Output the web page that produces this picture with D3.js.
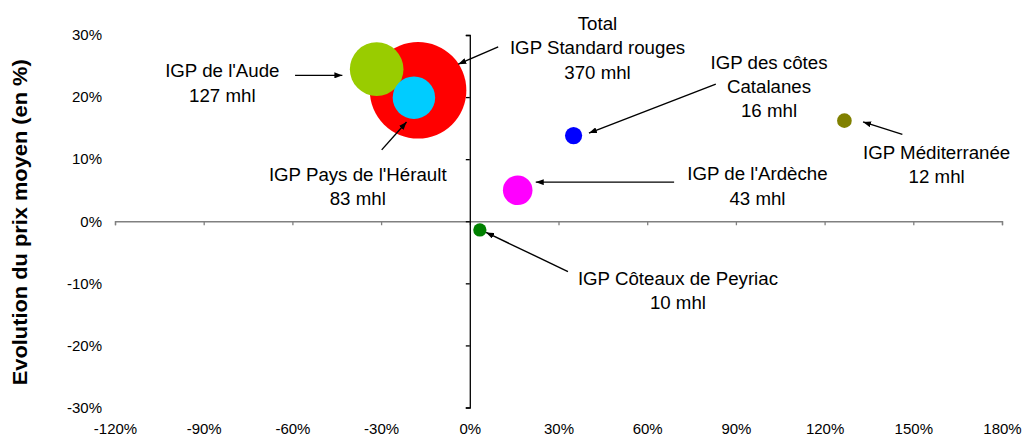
<!DOCTYPE html>
<html>
<head>
<meta charset="utf-8">
<script src="https://cdn.jsdelivr.net/npm/d3@7"></script>
<style>
  body { margin: 0; background: #fff; }
  svg { display: block; font-family: "Liberation Sans", Arial, sans-serif; }
</style>
</head>
<body>
<svg id="chart" width="1024" height="437"></svg>
<script>
// series
const names = ['Total IGP Standard rouges', "IGP de l'Aude", "IGP Pays de l'Hérault",
  'IGP des côtes Catalanes', 'IGP Méditerranée', "IGP de l'Ardèche", 'IGP Côteaux de Peyriac'];
const volumeEvol = [-17.5, -31.5, -18.9, 35.1, 126.7, 16.2, 3.4];   // x, %
const priceEvol = [21.1, 24.5, 19.9, 13.8, 16.2, 5.0, -1.4];        // y, %
const volumes = [370, 127, 83, 16, 12, 43, 10];                       // mhl, bubble size
const colors = ['#ff0000', '#99cc00', '#00ccff', '#0000ff', '#808000', '#ff00ff', '#008000'];

const xTicks = [-120, -90, -60, -30, 0, 30, 60, 90, 120, 150, 180];
const yTicks = [-30, -20, -10, 0, 10, 20, 30];

// annotation text lines, in series order
const labelLines = [
  ['Total', 'IGP Standard rouges', '370 mhl'],
  ["IGP de l'Aude", '127 mhl'],
  ["IGP Pays de l'Hérault", '83 mhl'],
  ['IGP des côtes', 'Catalanes', '16 mhl'],
  ['IGP Méditerranée', '12 mhl'],
  ["IGP de l'Ardèche", '43 mhl'],
  ['IGP Côteaux de Peyriac', '10 mhl'],
];

const svg = d3.select('#chart');
const cs = {
  x: { range: [115, 1002] },
  y: { range: [407.5, 35] },
  font: { tick: 15, label: 18.7, title: 20 },
  lineGap: 24.3,
};

const x = d3.scaleLinear().domain([-120, 180]).range(cs.x.range);
const y = d3.scaleLinear().domain([-30, 30]).range(cs.y.range);
const r = d3.scalePow().exponent(0.55).domain([0, 370]).range([0, 48.3]);

// annotation placement in data units: text anchor (centre, first baseline), arrow tail, arrow head
const notes = [
  { tx: 43.2, ty: 30.8, from: [9.6, 28.1], to: [-3.9, 25.3] },
  { tx: -83.7, ty: 23.2, from: [-59.1, 23.5], to: [-43.1, 23.5] },
  { tx: -37.9, ty: 6.5, from: [-29.8, 11.5], to: [-21.4, 16.0] },
  { tx: 101.2, ty: 24.6, from: [83.2, 22.1], to: [40.3, 14.2] },
  { tx: 157.9, ty: 10.1, from: [146.3, 14.0], to: [133.0, 16.0] },
  { tx: 97.3, ty: 6.6, from: [69.1, 6.3], to: [22.3, 6.3] },
  { tx: 70.4, ty: -10.3, from: [33.2, -8.1], to: [5.5, -1.8] },
];

svg.append('defs').append('marker')
  .attr('id', 'arrow')
  .attr('markerUnits', 'userSpaceOnUse')
  .attr('markerWidth', 8)
  .attr('markerHeight', 6)
  .attr('refX', 8)
  .attr('refY', 3)
  .attr('orient', 'auto')
  .append('path')
  .attr('d', 'M0,0 L8,3 L0,6 Z')
  .attr('fill', '#000');

// axis lines crossing at 0
const xAxisLine = svg.append('g')
  .attr('transform', `translate(0,${y(0)})`)
  .call(d3.axisBottom(x).tickValues(xTicks).tickFormat('').tickSize(4).tickSizeOuter(4));
xAxisLine.selectAll('path, line').attr('stroke', '#808080').attr('stroke-width', 1.3);

const yAxisLine = svg.append('g')
  .attr('transform', `translate(${x(0)},0)`)
  .call(d3.axisLeft(y).tickValues(yTicks).tickFormat('').tickSize(4).tickSizeOuter(4));
yAxisLine.selectAll('path, line').attr('stroke', '#000').attr('stroke-width', 1.3);

// tick labels sit at the low end of each axis
const xLabels = svg.append('g')
  .attr('transform', 'translate(0,423)')
  .call(d3.axisBottom(x).tickValues(xTicks).tickFormat(d => `${d}%`).tickSize(0).tickPadding(0));
xLabels.select('.domain').remove();
xLabels.selectAll('text')
  .attr('font-size', cs.font.tick)
  .attr('font-family', '"Liberation Sans", Arial, sans-serif')
  .attr('fill', '#000');

const yLabels = svg.append('g')
  .attr('transform', 'translate(102,0)')
  .call(d3.axisLeft(y).tickValues(yTicks).tickFormat(d => `${d}%`).tickSize(0).tickPadding(0));
yLabels.select('.domain').remove();
yLabels.selectAll('text')
  .attr('font-size', cs.font.tick)
  .attr('font-family', '"Liberation Sans", Arial, sans-serif')
  .attr('fill', '#000');

svg.append('text')
  .attr('transform', `translate(27,${(cs.y.range[0] + cs.y.range[1]) / 2 + 1}) rotate(-90)`)
  .attr('text-anchor', 'middle')
  .attr('font-size', cs.font.title)
  .attr('font-weight', 'bold')
  .attr('textLength', 326)
  .attr('lengthAdjust', 'spacingAndGlyphs')
  .text('Evolution du prix moyen (en %)');

// bubbles, biggest first so the small ones stay on top
const ds = names.map((n, i) => ({
  name: n, dx: volumeEvol[i], dy: priceEvol[i], v: volumes[i], color: colors[i],
}));
svg.append('g').selectAll('circle')
  .data(ds.slice().sort((a, b) => b.v - a.v))
  .enter()
  .append('circle')
  .attr('cx', d => x(d.dx))
  .attr('cy', d => y(d.dy))
  .attr('r', d => r(d.v))
  .attr('fill', d => d.color);

// labels and arrows
const ann = svg.append('g');
notes.forEach((n, i) => {
  ann.append('line')
    .attr('x1', x(n.from[0])).attr('y1', y(n.from[1]))
    .attr('x2', x(n.to[0])).attr('y2', y(n.to[1]))
    .attr('stroke', '#000')
    .attr('stroke-width', 1.4)
    .attr('marker-end', 'url(#arrow)');
  const t = ann.append('text')
    .attr('text-anchor', 'middle')
    .attr('font-size', cs.font.label)
    .attr('fill', '#000');
  labelLines[i].forEach((line, k) => {
    t.append('tspan')
      .attr('x', x(n.tx))
      .attr('y', y(n.ty) + k * cs.lineGap)
      .text(line);
  });
});
</script>
</body>
</html>
